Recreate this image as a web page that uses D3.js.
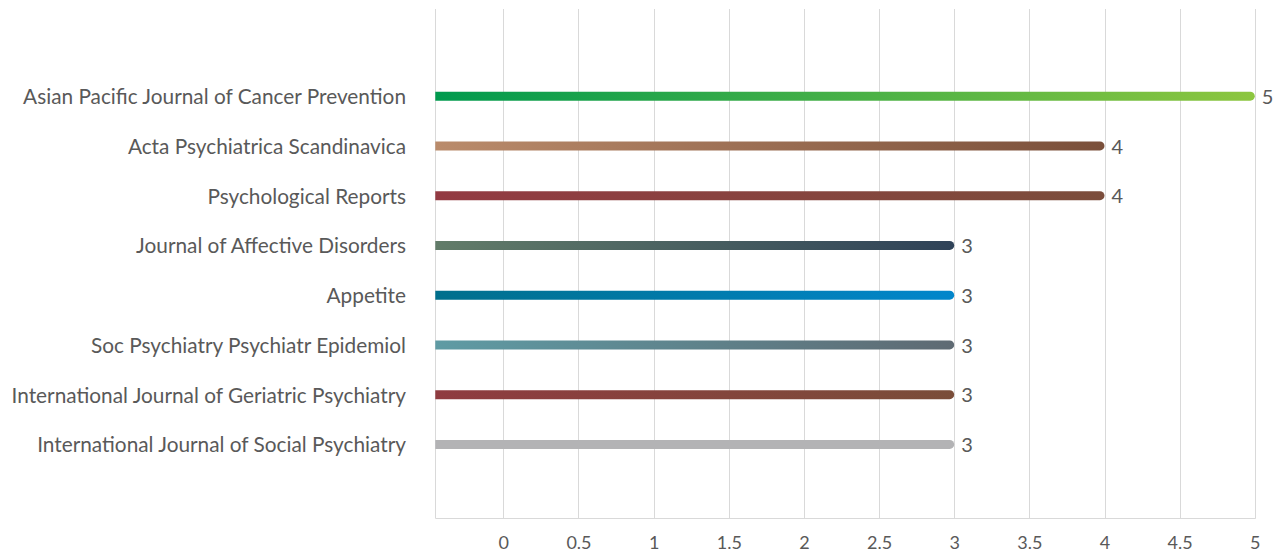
<!DOCTYPE html>
<html>
<head>
<meta charset="utf-8">
<script src="https://cdn.jsdelivr.net/npm/d3@7"></script>
<style>
  html, body { margin: 0; padding: 0; background: #fff; }
  svg { display: block; }
</style>
</head>
<body>
<svg id="chart" width="1285" height="556"></svg>
<script>
const categories = [
  "Asian Pacific Journal of Cancer Prevention",
  "Acta Psychiatrica Scandinavica",
  "Psychological Reports",
  "Journal of Affective Disorders",
  "Appetite",
  "Soc Psychiatry Psychiatr Epidemiol",
  "International Journal of Geriatric Psychiatry",
  "International Journal of Social Psychiatry"
];
const values = [5, 4, 4, 3, 3, 3, 3, 3];
const gradStart = ["#009a4e", "#ba8b6b", "#933a42", "#627c69", "#006f8c", "#5f9ba4", "#8f3b40", "#b3b3b5"];
const gradEnd   = ["#8dc63f", "#7a4f3a", "#7b4d3b", "#2f4258", "#0286cb", "#5f6a73", "#7a4d39", "#b3b3b5"];
const xTicks = [0, 0.5, 1, 1.5, 2, 2.5, 3, 3.5, 4, 4.5, 5];

const svg = d3.select("#chart");
const plotLeft = 435.3, plotRight = 1254.8, plotTop = 9, plotBottom = 518;
const xMin = -0.4525, xMax = 5;

const x = d3.scaleLinear().domain([xMin, xMax]).range([plotLeft, plotRight]);
const y = d3.scaleBand().domain(categories).range([71.3, 469.3]).paddingInner(0).paddingOuter(0);

// gradients
const defs = svg.append("defs");
categories.forEach((c, i) => {
  const g = defs.append("linearGradient")
    .attr("id", "g" + i)
    .attr("gradientUnits", "userSpaceOnUse")
    .attr("x1", x(xMin)).attr("x2", x(values[i]))
    .attr("y1", 0).attr("y2", 0);
  g.append("stop").attr("offset", "0%").attr("stop-color", gradStart[i]);
  g.append("stop").attr("offset", "100%").attr("stop-color", gradEnd[i]);
});

// gridlines
const gridVals = [xMin].concat(xTicks);
svg.append("g").selectAll("line").data(gridVals).join("line")
  .attr("x1", d => Math.round(x(d)) + 0.5).attr("x2", d => Math.round(x(d)) + 0.5)
  .attr("y1", plotTop).attr("y2", plotBottom)
  .attr("stroke", "#d9d9d9").attr("stroke-width", 1);

// bottom axis line
svg.append("line")
  .attr("x1", plotLeft).attr("x2", plotRight + 1)
  .attr("y1", plotBottom + 0.5).attr("y2", plotBottom + 0.5)
  .attr("stroke", "#d9d9d9").attr("stroke-width", 1);

// x tick labels via axis
const xAxis = d3.axisBottom(x).tickValues(xTicks).tickSize(0).tickPadding(0)
  .tickFormat(d => String(d));
const ax = svg.append("g").attr("transform", `translate(0,${plotBottom})`).call(xAxis);
ax.select(".domain").remove();
ax.selectAll("text")
  .attr("y", 25).attr("dy", "0.32em")
  .attr("fill", "#595959")
  .style("font-family", "Lato, 'Open Sans', sans-serif")
  .style("font-size", "18px");

// bars
const h = 9, r = h / 2;
const bars = svg.append("g");
categories.forEach((c, i) => {
  const cy = y(c) + y.bandwidth() / 2;
  const x0 = x(xMin), x1 = x(values[i]);
  const p = d3.path();
  p.moveTo(x0, cy - r);
  p.lineTo(x1 - r, cy - r);
  p.arc(x1 - r, cy, r, -Math.PI / 2, Math.PI / 2, false);
  p.lineTo(x0, cy + r);
  p.closePath();
  bars.append("path").attr("d", p.toString()).attr("fill", `url(#g${i})`);
  bars.append("text")
    .attr("x", x1 + 7).attr("y", cy + 0.5).attr("dy", "0.36em")
    .attr("fill", "#595959")
    .style("font-family", "Lato, 'Open Sans', sans-serif")
    .style("font-size", "20px")
    .text(values[i]);
});

// category labels
svg.append("g").selectAll("text").data(categories).join("text")
  .attr("x", 406).attr("y", d => y(d) + y.bandwidth() / 2 + 0.5).attr("dy", "0.36em")
  .attr("text-anchor", "end")
  .attr("fill", "#595959")
  .style("font-family", "Lato, 'Open Sans', sans-serif")
  .style("font-size", "20.8px")
  .text(d => d);
</script>
</body>
</html>
